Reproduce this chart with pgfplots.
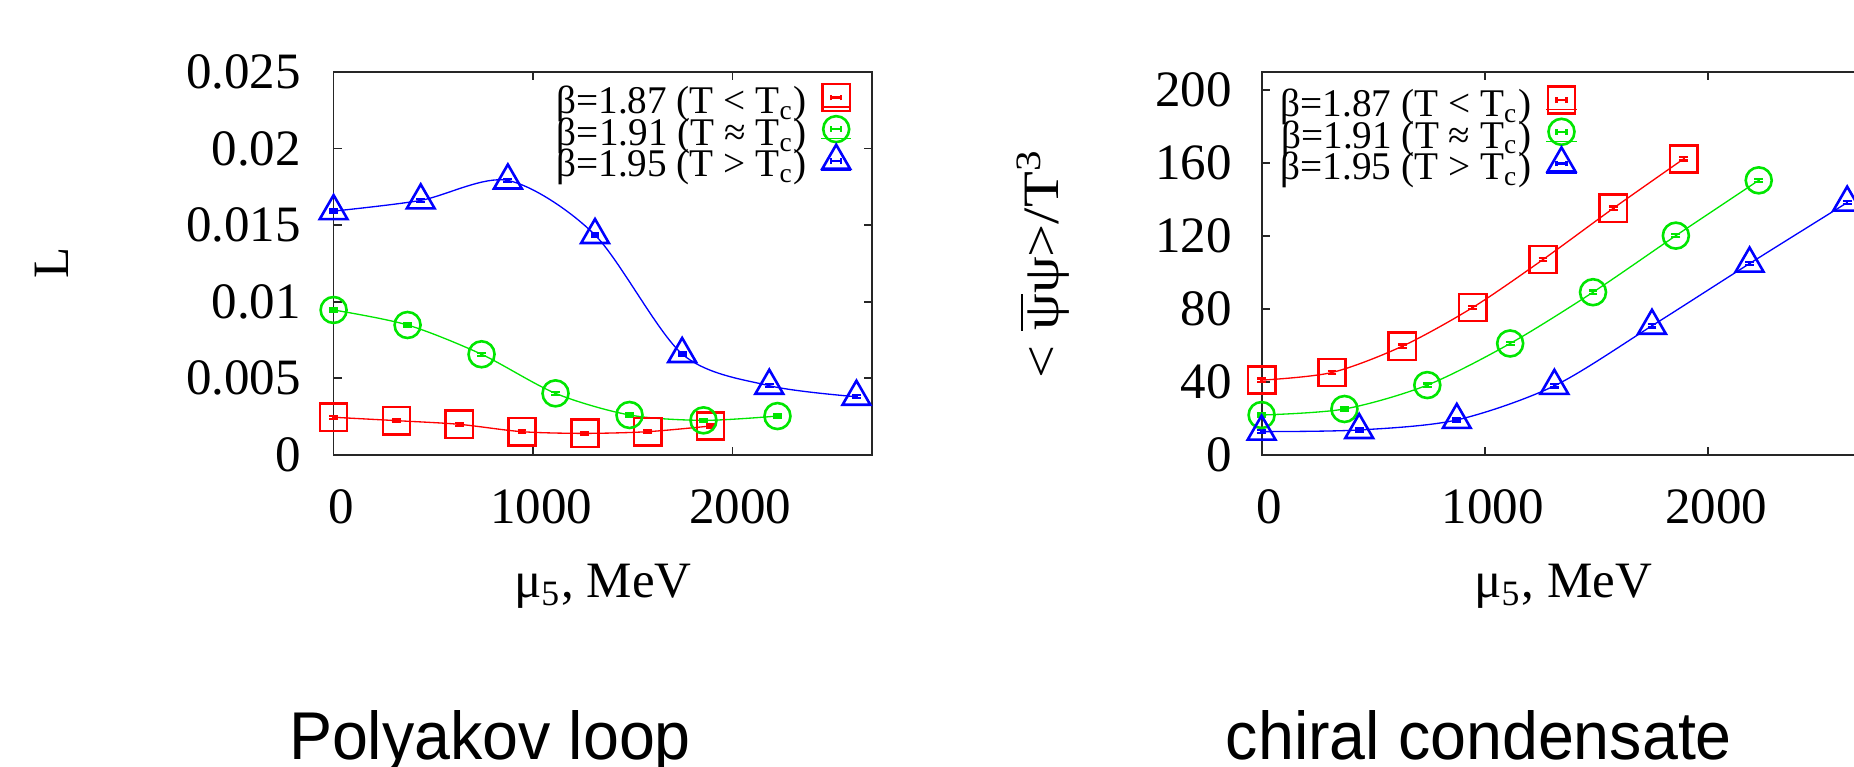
\documentclass[border=0pt]{standalone}
\usepackage{fontspec}
\setmainfont{Liberation Serif}
\newfontfamily\titlefont{Liberation Sans}
\usepackage{pgfplots}
\pgfplotsset{compat=1.18}

\definecolor{gpred}{RGB}{255,0,0}
\definecolor{gpgreen}{RGB}{0,230,0}
\definecolor{gpblue}{RGB}{0,0,255}

\newcommand{\labfont}{\fontsize{12.75}{15}\selectfont}

\pgfplotsset{
  gpaxis/.style={
    scale only axis,
    height=95.8pt,
    xmin=0, xmax=2700, ymin=0,
    xtick={0,1000,2000},
    xticklabels={0,1000,2000},
    scaled x ticks=false,
    scaled y ticks=false,
    tick align=inside,
    major tick length=2pt,
    axis line style={line width=0.45pt, black!85},
    every tick/.style={black!85, line width=0.45pt},
    tick label style={font=\labfont},
    /pgf/number format/assume math mode=true,
    label style={font=\labfont},
    xticklabel style={yshift=-5pt, xshift=2pt},
    xlabel style={at={(axis description cs:0.5,-0.373)}, anchor=base},
    clip=false,
    legend plot pos=right,
    legend cell align=right,
    legend style={draw=none, fill=none, inner sep=0pt, outer sep=0pt,
      font=\fontsize{9.8}{11}\selectfont, row sep=0pt, column sep=3.4pt,
      nodes={inner sep=0pt, text height=5.6pt, text depth=2.3pt}},
    legend image code/.code={
      \path (-3.8pt,0pt) -- (3.8pt,0pt);
      \begin{scope}[overlay, yshift=2.4pt]
        \draw[##1, mark=none, line width=0.6pt] (-1.25pt,0pt) -- (1.25pt,0pt)
          (-1.25pt,-0.7pt) -- (-1.25pt,0.7pt) (1.25pt,-0.7pt) -- (1.25pt,0.7pt);
        \draw[##1] plot coordinates {(0pt,0pt)};
      \end{scope}
    },
  },
  ser/.style={line width=0.33pt, smooth, mark options={line width=0.65pt, solid}},
  sq/.style={ser, gpred, mark=square, mark size=3.4pt},
  ci/.style={ser, gpgreen, mark=o, mark size=3.25pt},
  tr/.style={ser, gpblue, mark=triangle, mark size=4pt},
  eb/.style={error bars/.cd, y dir=both, y fixed=#1,
    error bar style={line width=0.6pt},
    error mark options={rotate=90, line width=0.6pt, mark size=1.1pt}},
}

\begin{document}
\begin{tikzpicture}
\useasboundingbox (0,0) rectangle (463.5pt,191.75pt);
\clip (0,0) rectangle (463.5pt,191.75pt);

% Polyakov loop
\begin{axis}[gpaxis,
  at={(83.4pt,78pt)}, anchor=south west,
  width=134.6pt,
  ymax=0.025,
  ytick={0,0.005,0.01,0.015,0.02,0.025},
  yticklabels={0,0.005,0.01,0.015,0.02,0.025},
  yticklabel style={xshift=-4.65pt},
  xlabel={μ\textsubscript{5}, MeV},
  ylabel={L},
  ylabel style={at={(axis description cs:-0.524,0.5)}, anchor=center},
  legend style={at={(0.963,0.949)}, anchor=north east},
]
\addplot[sq, eb=0.0001]
  coordinates {(0,0.00246) (315,0.00224) (630,0.00200) (945,0.00152) (1260,0.00141) (1575,0.00152) (1890,0.00189)};
\addlegendentry{β=1.87 (T < T\textsubscript{c})}
\addplot[ci, eb=0.0001]
  coordinates {(0,0.00946) (371,0.00848) (742,0.00657) (1113,0.00402) (1484,0.00261) (1855,0.00226) (2226,0.00254)};
\addlegendentry{β=1.91 (T ≈ T\textsubscript{c})}
\addplot[tr, eb=0.0001]
  coordinates {(0,0.01591) (437,0.01661) (874,0.01791) (1311,0.01435) (1748,0.00659) (2185,0.00452) (2622,0.00380)};
\addlegendentry{β=1.95 (T > T\textsubscript{c})}
\end{axis}

% chiral condensate
\begin{axis}[gpaxis,
  at={(315.4pt,78pt)}, anchor=south west,
  width=150.75pt,
  ymax=210,
  ytick={0,40,80,120,160,200},
  yticklabel style={xshift=-3.9pt},
  xlabel={μ\textsubscript{5}, MeV},
  ylabel={\scalebox{1.15}[1]{{<}\ \(\overline{\mbox{ψ}}\)ψ{>}/T\textsuperscript{3}}},
  ylabel style={at={(axis description cs:-0.3625,0.499)}, anchor=center},
  legend style={at={(0.032,0.942)}, anchor=north west, column sep=3.6pt},
]
\addplot[sq, eb=0.9]
  coordinates {(0,41.0) (315,45.2) (630,59.6) (945,80.8) (1260,107.1) (1575,135.2) (1890,162.3)};
\addlegendentry{β=1.87 (T < T\textsubscript{c})}
\addplot[ci, eb=0.9]
  coordinates {(0,21.9) (371,25.2) (742,38.3) (1113,61.1) (1484,89.2) (1855,120.2) (2226,150.5)};
\addlegendentry{β=1.91 (T ≈ T\textsubscript{c})}
\addplot[tr, eb=0.9]
  coordinates {(0,12.8) (437,13.7) (874,19.2) (1311,37.9) (1748,70.8) (2185,104.9) (2622,138.3)};
\addlegendentry{β=1.95 (T > T\textsubscript{c})}
\end{axis}

\node[anchor=base, font=\titlefont\fontsize{16.9}{20}\selectfont] at (122.5pt,1.9pt) {\scalebox{0.955}[1]{Polyakov loop}};
\node[anchor=base, font=\titlefont\fontsize{16.9}{20}\selectfont] at (369.75pt,1.9pt) {\scalebox{0.955}[1]{chiral condensate}};
\end{tikzpicture}
\end{document}
